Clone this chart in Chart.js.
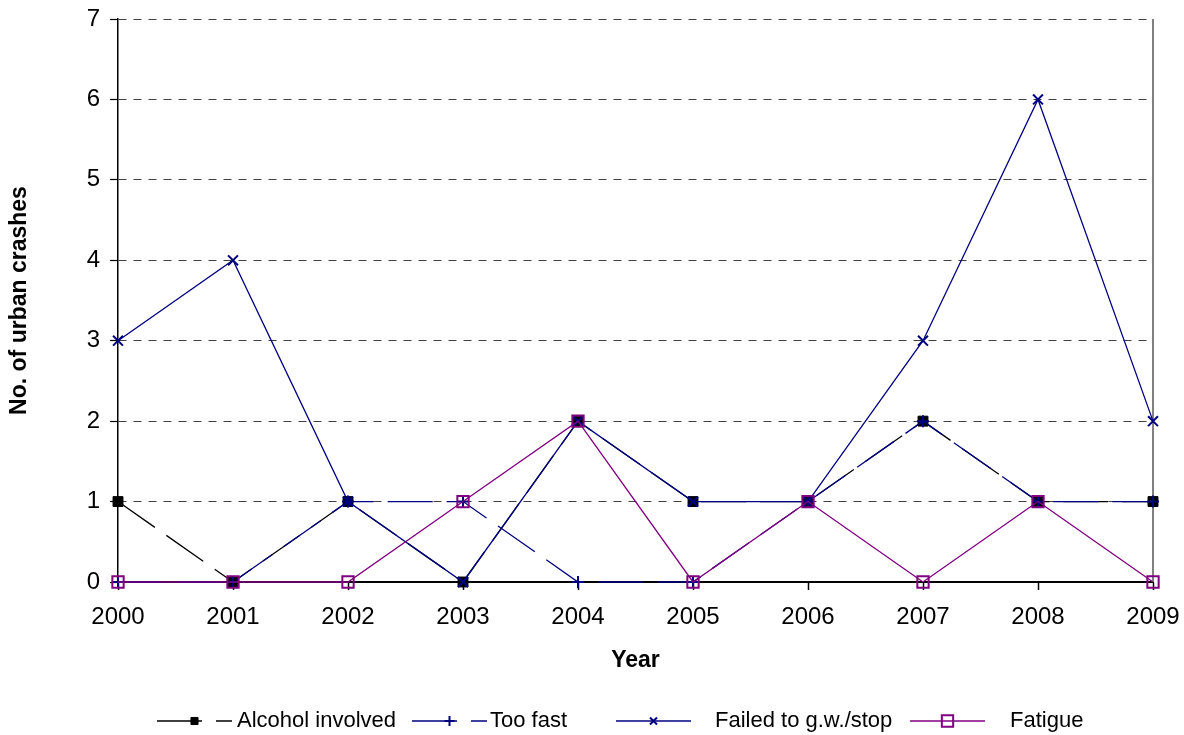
<!DOCTYPE html>
<html>
<head>
<meta charset="utf-8">
<title>Urban crashes by year</title>
<script src="https://cdn.jsdelivr.net/npm/chart.js@4.4.0/dist/chart.umd.min.js"></script>
<style>
  body { margin: 0; background: #fff; }
  #wrap { width: 1184px; height: 735px; }
</style>
</head>
<body>
<div id="wrap"><canvas id="crashChart" width="1184" height="735"></canvas></div>
<script>
const years = ["2000", "2001", "2002", "2003", "2004", "2005", "2006", "2007", "2008", "2009"]
const alcoholInvolved = [1, 0, 1, 0, 2, 1, 1, 2, 1, 1]
const tooFast = [0, 0, 1, 1, 0, 0, 1, 2, 1, 1]
const failedToGiveWay = [3, 4, 1, 0, 2, 1, 1, 3, 6, 2]
const fatigue = [0, 0, 0, 1, 2, 0, 1, 0, 1, 0]
const yMax = 7

const FONT = "'Liberation Sans', Arial, sans-serif"
const NAVY = "#000080"
const PURPLE = "#800080"
const LONG_DASH = [45, 14]

Chart.defaults.font.family = FONT
Chart.defaults.color = "#000"

// legend drawn by hand so each entry shows line + marker like the original
const legendItems = [
  { text: "Alcohol involved", lineX: 157, textX: 237, color: "#000", dash: LONG_DASH, fill: "#000",
    point: { pointStyle: "rect", radius: 5, rotation: 0, borderWidth: 1 } },
  { text: "Too fast", lineX: 412, textX: 490, color: NAVY, dash: LONG_DASH, fill: NAVY,
    point: { pointStyle: "cross", radius: 5, rotation: 0, borderWidth: 2 } },
  { text: "Failed to g.w./stop", lineX: 616, textX: 715, color: NAVY, dash: [], fill: NAVY,
    point: { pointStyle: "crossRot", radius: 5, rotation: 0, borderWidth: 2 } },
  { text: "Fatigue", lineX: 910, textX: 1010, color: PURPLE, dash: [], fill: "rgba(0,0,0,0)",
    point: { pointStyle: "rect", radius: 8, rotation: 0, borderWidth: 2 } },
]

const bottomLegendPlugin = {
  id: "bottomLegend",
  afterDraw(chart) {
    const { ctx } = chart
    const y = 721
    ctx.save()
    ctx.font = "22px " + FONT
    ctx.textBaseline = "middle"
    ctx.textAlign = "left"
    legendItems.forEach((item) => {
      ctx.strokeStyle = item.color
      ctx.lineWidth = 1.3
      ctx.setLineDash(item.dash)
      ctx.beginPath()
      ctx.moveTo(item.lineX, y)
      ctx.lineTo(item.lineX + 75, y)
      ctx.stroke()
      ctx.setLineDash([])
      ctx.fillStyle = item.fill
      ctx.lineWidth = item.point.borderWidth
      Chart.helpers.drawPoint(ctx, item.point, item.lineX + 37.5, y)
      ctx.fillStyle = "#000"
      ctx.fillText(item.text, item.textX, y)
    })
    ctx.restore()
  },
}

const plotBorderPlugin = {
  id: "plotBorder",
  beforeDatasetsDraw(chart) {
    const {
      ctx,
      chartArea: { top, bottom, right },
    } = chart
    ctx.save()
    ctx.strokeStyle = "#808080"
    ctx.lineWidth = 2
    ctx.beginPath()
    ctx.moveTo(right, top)
    ctx.lineTo(right, bottom)
    ctx.stroke()
    ctx.restore()
  },
}

new Chart(document.getElementById("crashChart"), {
  type: "line",
  data: {
    labels: years,
    datasets: [
      {
        label: "Alcohol involved",
        data: alcoholInvolved,
        borderColor: "#000",
        borderWidth: 1.3,
        borderDash: LONG_DASH,
        pointStyle: "rect",
        pointRadius: 7,
        pointBackgroundColor: "#000",
        pointBorderColor: "#000",
        pointBorderWidth: 1,
        order: 4,
      },
      {
        label: "Too fast",
        data: tooFast,
        borderColor: NAVY,
        borderWidth: 1.3,
        borderDash: LONG_DASH,
        pointStyle: "cross",
        pointRadius: 6,
        pointBorderColor: NAVY,
        pointBorderWidth: 2,
        order: 3,
      },
      {
        label: "Failed to g.w./stop",
        data: failedToGiveWay,
        borderColor: NAVY,
        borderWidth: 1.3,
        pointStyle: "crossRot",
        pointRadius: 7,
        pointBorderColor: NAVY,
        pointBorderWidth: 2,
        order: 2,
      },
      {
        label: "Fatigue",
        data: fatigue,
        borderColor: PURPLE,
        borderWidth: 1.3,
        pointStyle: "rect",
        pointRadius: 8,
        pointBackgroundColor: "rgba(0,0,0,0)",
        pointBorderColor: PURPLE,
        pointBorderWidth: 2,
        order: 1,
      },
    ],
  },
  options: {
    responsive: false,
    devicePixelRatio: 1,
    animation: false,
    clip: false,
    elements: {
      line: { tension: 0, fill: false },
    },
    layout: {
      padding: { top: 19, right: 31, bottom: 53, left: 0 },
    },
    plugins: {
      legend: { display: false },
      tooltip: { enabled: false },
    },
    scales: {
      x: {
        type: "category",
        offset: false,
        ticks: {
          color: "#000",
          font: { size: 24 },
          padding: 13,
          maxRotation: 0,
          autoSkip: false,
        },
        grid: {
          display: true,
          drawOnChartArea: false,
          drawTicks: true,
          tickLength: 8,
          tickColor: "#000",
          tickWidth: 1.5,
        },
        border: { color: "#000", width: 2 },
        title: {
          display: true,
          text: "Year",
          color: "#000",
          font: { size: 23, weight: "bold" },
          padding: { top: 0, bottom: 8 },
        },
        afterFit(scale) {
          scale.height = 100
          scale.paddingLeft = 0
          scale.paddingRight = 0
        },
      },
      y: {
        min: 0,
        max: yMax,
        ticks: {
          stepSize: 1,
          color: "#000",
          font: { size: 24 },
          padding: 10,
        },
        grid: {
          color: (c) => (c.tick && c.tick.value === 0 ? "rgba(0,0,0,0)" : "#404040"),
          lineWidth: 1,
          tickLength: 8,
          tickColor: "#000",
          tickWidth: 1.2,
          tickBorderDash: [],
        },
        border: { color: "#000", width: 1.5, dash: [8, 7] },
        title: {
          display: true,
          text: "No. of urban crashes",
          color: "#000",
          font: { size: 23, weight: "bold" },
          padding: { top: 6, bottom: 0 },
        },
        afterFit(scale) {
          scale.width = 118
          scale.paddingTop = 0
          scale.paddingBottom = 0
        },
      },
    },
  },
  plugins: [plotBorderPlugin, bottomLegendPlugin],
})
</script>
</body>
</html>
